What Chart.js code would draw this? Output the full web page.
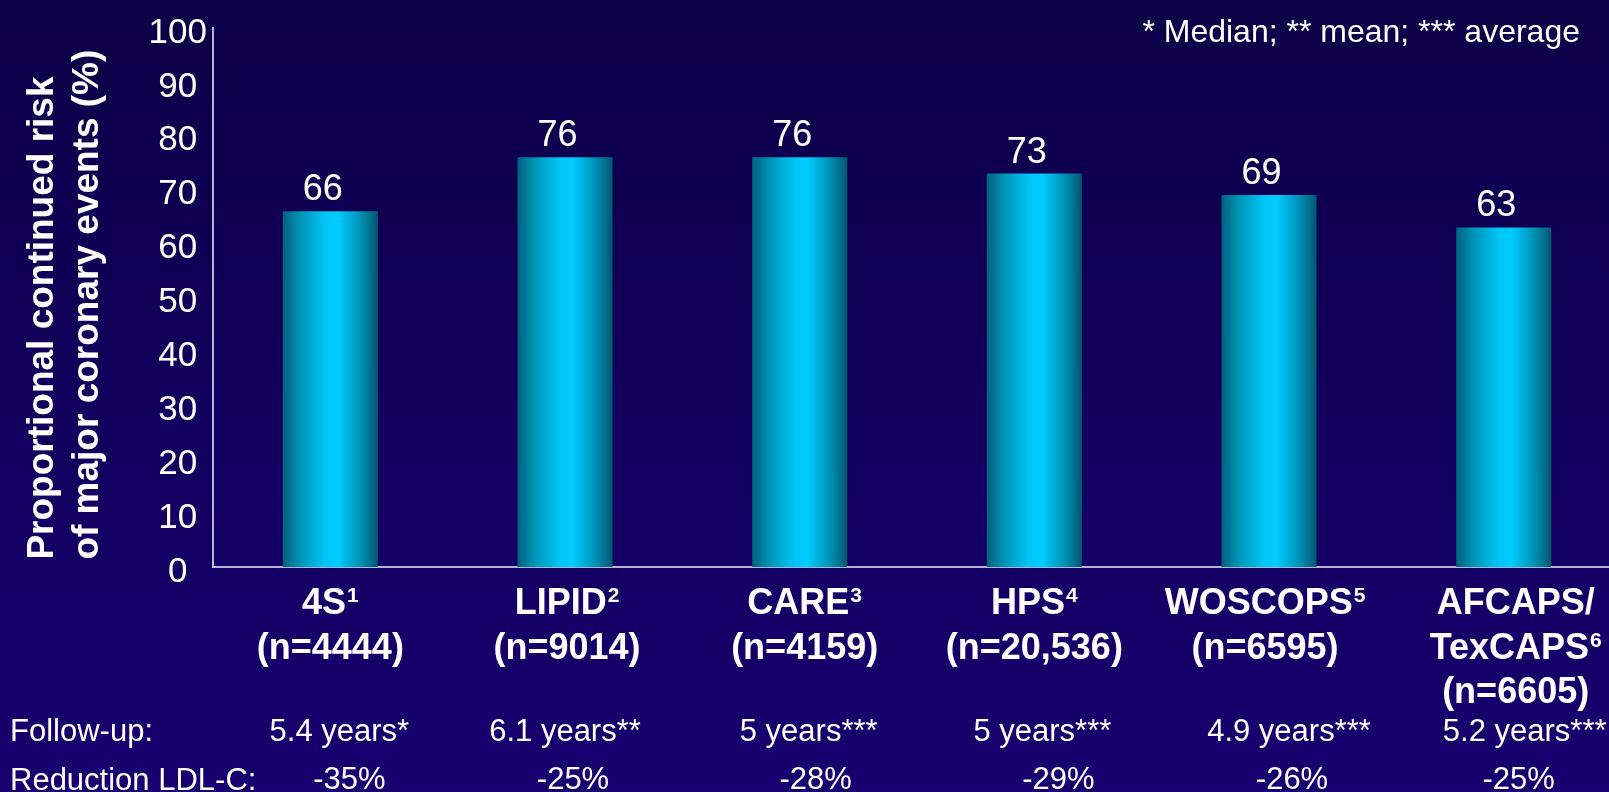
<!DOCTYPE html>
<html>
<head>
<meta charset="utf-8">
<script src="https://cdn.jsdelivr.net/npm/chart.js@4.4.1/dist/chart.umd.min.js"></script>
<style>
  html, body {
    margin: 0;
    padding: 0;
    width: 1609px;
    height: 792px;
    overflow: hidden;
    background: linear-gradient(to bottom, #0c0046 0%, #11005c 50%, #17006f 100%);
  }
  canvas { display: block; }
</style>
</head>
<body>
<canvas id="chart" width="1624" height="792"></canvas>
<script>
// ---- data ----
const trialNames  = [['4S'], ['LIPID'], ['CARE'], ['HPS'], ['WOSCOPS'], ['AFCAPS/', 'TexCAPS']];
const refNumbers  = ['1', '2', '3', '4', '5', '6'];
const sampleSizes = ['(n=4444)', '(n=9014)', '(n=4159)', '(n=20,536)', '(n=6595)', '(n=6605)'];
const continuedRisk = [66, 76, 76, 73, 69, 63];
const followUp     = ['5.4 years*', '6.1 years**', '5 years***', '5 years***', '4.9 years***', '5.2 years***'];
const ldlReduction = ['-35%', '-25%', '-28%', '-29%', '-26%', '-25%'];
const yTicks = [0, 10, 20, 30, 40, 50, 60, 70, 80, 90, 100];
const yTitle = ['\u2009Proportional continued risk', '\u2009of major coronary events (%)'];
const footnote = '* Median; ** mean; *** average';
const rowTitles = ['Follow-up:', 'Reduction LDL-C:'];

// ---- layout of the text under the axis ----
const nameShift   = [0, 2, 5, 0, -4, 12];
const followShift = [9, 0, 9, 8, 20, 21];
const ldlShift    = [19, 8, 16, 24, 23, 15];

const FONT = "'Liberation Sans', Arial, Helvetica, sans-serif";
const categories = trialNames.map(n => n.join(' '));

// cyan cylinder shading across each bar
function barFill(c) {
  const chart = c.chart;
  const xs = chart.scales && chart.scales.x;
  if (c.type !== 'data' || !xs) return '#00ccff';
  const cx = xs.getPixelForValue(c.dataIndex);
  const step = xs.width / categories.length;
  if (!Number.isFinite(cx) || !Number.isFinite(step) || step <= 0) return '#00ccff';
  const half = step * 0.405 / 2;
  const g = chart.ctx.createLinearGradient(cx - half, 0, cx + half, 0);
  g.addColorStop(0.00, '#00627d');
  g.addColorStop(0.20, '#0098bd');
  g.addColorStop(0.45, '#00c6f5');
  g.addColorStop(0.58, '#00ccff');
  g.addColorStop(0.80, '#0096ba');
  g.addColorStop(1.00, '#005870');
  return g;
}

// category names with reference marks, values, footnote and the follow-up / LDL-C rows
const annotations = {
  id: 'annotations',
  afterDraw(chart) {
    const ctx = chart.ctx;
    const xs = chart.scales.x;
    ctx.save();
    ctx.fillStyle = '#ffffff';
    ctx.textBaseline = 'alphabetic';

    // value above each bar
    ctx.font = `36px ${FONT}`;
    ctx.textAlign = 'center';
    chart.getDatasetMeta(0).data.forEach((el, i) => {
      ctx.fillText(String(continuedRisk[i]), el.x - 7.5, el.y - 11);
    });

    // category labels
    const mainFont = `bold 36px ${FONT}`;
    const supFont = `bold 21px ${FONT}`;
    trialNames.forEach((lines, i) => {
      const cx = xs.getPixelForValue(i) + nameShift[i];
      let base = 614;
      lines.forEach((line, j) => {
        const last = j === lines.length - 1;
        ctx.font = mainFont;
        const w = ctx.measureText(line).width;
        let sw = 0;
        if (last) { ctx.font = supFont; sw = ctx.measureText(refNumbers[i]).width + 1; }
        const x0 = cx - (w + sw) / 2;
        ctx.textAlign = 'left';
        ctx.font = mainFont;
        ctx.fillText(line, x0, base);
        if (last) {
          ctx.font = supFont;
          ctx.fillText(refNumbers[i], x0 + w + 1, base - 12);
        }
        base += 44.5;
      });
      ctx.font = mainFont;
      ctx.textAlign = 'center';
      ctx.fillText(sampleSizes[i], cx, base);
    });

    ctx.font = `32px ${FONT}`;
    ctx.textAlign = 'right';
    ctx.fillText(footnote, 1580, 42);

    ctx.font = `31px ${FONT}`;
    ctx.textAlign = 'left';
    ctx.fillText(rowTitles[0], 10, 741);
    ctx.fillText(rowTitles[1], 10, 790);

    ctx.textAlign = 'center';
    followUp.forEach((t, i) => {
      ctx.fillText(t, xs.getPixelForValue(i) + followShift[i], 741);
    });
    ldlReduction.forEach((t, i) => {
      ctx.fillText(t, xs.getPixelForValue(i) + ldlShift[i], 789);
    });
    ctx.restore();
  }
};

new Chart(document.getElementById('chart'), {
  type: 'bar',
  data: {
    labels: categories,
    datasets: [{
      data: continuedRisk,
      backgroundColor: barFill,
      borderWidth: 0,
      categoryPercentage: 1,
      barPercentage: 0.405
    }]
  },
  options: {
    responsive: false,
    animation: false,
    devicePixelRatio: 1,
    layout: { padding: { top: 28, right: 3, left: 0, bottom: 0 } },
    plugins: {
      legend: { display: false },
      tooltip: { enabled: false }
    },
    scales: {
      x: {
        grid: { display: false, drawTicks: false },
        border: { display: true, color: 'rgba(200,200,225,0.9)', width: 2 },
        ticks: { display: false },
        afterFit(scale) { scale.height = 225; }
      },
      y: {
        min: 0,
        max: 100,
        afterBuildTicks(scale) { scale.ticks = yTicks.map(v => ({ value: v })); },
        grid: { display: false, drawTicks: false },
        border: { display: true, color: 'rgba(200,200,225,0.9)', width: 2 },
        ticks: {
          color: '#ffffff',
          font: { family: FONT, size: 35 },
          padding: 6,
          crossAlign: 'center',
          labelOffset: 5
        },
        title: {
          display: true,
          text: yTitle,
          color: '#ffffff',
          align: 'start',
          font: { family: FONT, size: 37, weight: 'bold', lineHeight: 1.216 },
          padding: { top: 20, bottom: 0 }
        },
        afterFit(scale) { scale.width = 213; }
      }
    }
  },
  plugins: [annotations]
});
</script>
</body>
</html>
